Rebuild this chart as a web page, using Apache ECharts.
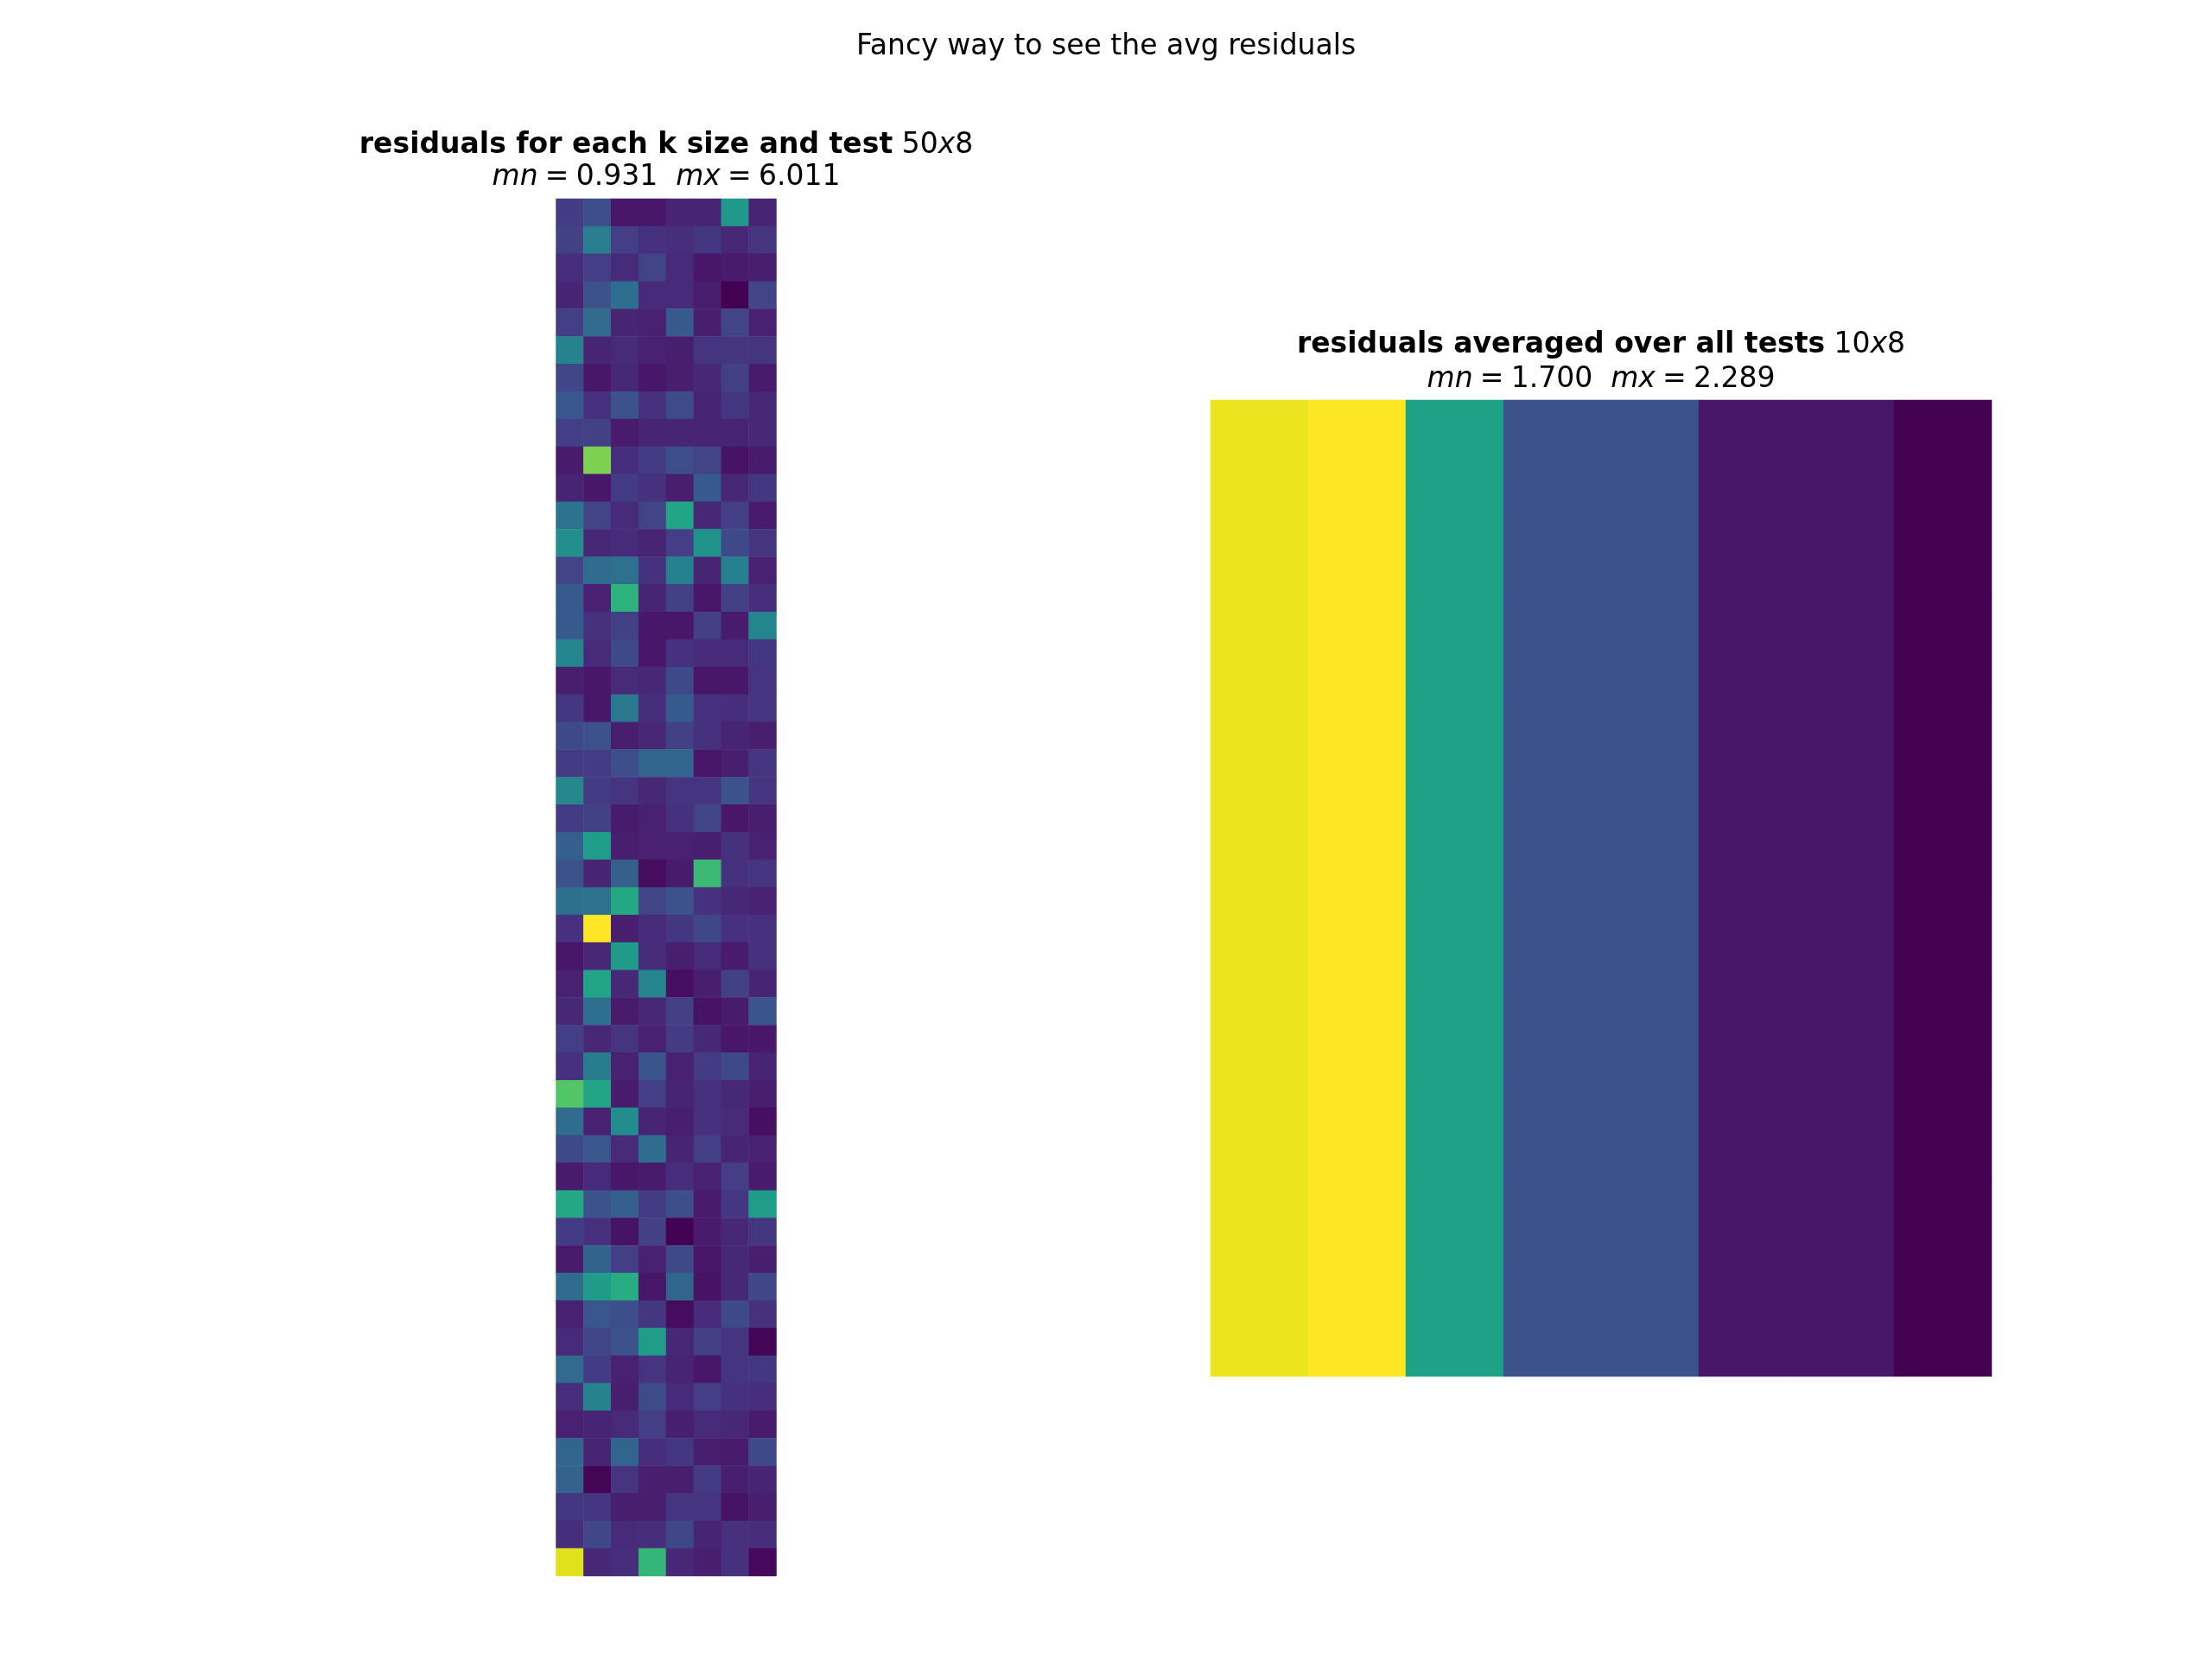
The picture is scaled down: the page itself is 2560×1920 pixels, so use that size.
<!DOCTYPE html>
<html>
<head>
	<meta charset="utf-8"/>
	<title>Fancy way to see the avg residuals</title>
	<style>
		html, body { margin: 0; padding: 0; background: #fff; }
		#chart { width: 2560px; height: 1920px; }
	</style>
</head>
<body>

	<div id="chart"></div>

	<script src="https://cdn.jsdelivr.net/npm/echarts@6/dist/echarts.min.js"></script>
	<script>

		// k sizes (columns) shared by both panels
		var kCols = ['0', '1', '2', '3', '4', '5', '6', '7'];

		// residuals for each test (rows) and k size (columns), 50x8
		var residuals = [
			[1.80, 2.15, 1.24, 1.24, 1.44, 1.44, 3.62, 1.44],
			[1.90, 3.06, 1.85, 1.64, 1.59, 1.74, 1.49, 1.69],
			[1.59, 1.85, 1.54, 1.95, 1.54, 1.24, 1.29, 1.34],
			[1.44, 2.20, 2.76, 1.54, 1.54, 1.34, 0.931, 1.95],
			[1.85, 2.66, 1.44, 1.39, 2.35, 1.34, 1.95, 1.39],
			[3.17, 1.44, 1.54, 1.39, 1.34, 1.69, 1.69, 1.69],
			[2.00, 1.24, 1.49, 1.24, 1.34, 1.49, 1.90, 1.29],
			[2.30, 1.64, 2.20, 1.64, 2.10, 1.44, 1.74, 1.49],
			[1.85, 1.90, 1.29, 1.44, 1.44, 1.44, 1.44, 1.49],
			[1.29, 4.99, 1.59, 1.80, 2.15, 1.95, 1.18, 1.29],
			[1.44, 1.24, 1.80, 1.64, 1.34, 2.35, 1.49, 1.74],
			[2.86, 1.95, 1.54, 1.95, 3.88, 1.49, 1.85, 1.29],
			[3.42, 1.49, 1.54, 1.44, 1.85, 3.47, 2.05, 1.69],
			[1.95, 2.71, 2.81, 1.64, 3.11, 1.44, 3.11, 1.39],
			[2.35, 1.39, 4.18, 1.44, 1.90, 1.24, 1.90, 1.59],
			[2.35, 1.64, 1.90, 1.24, 1.24, 1.90, 1.29, 3.22],
			[3.22, 1.54, 2.05, 1.24, 1.64, 1.54, 1.54, 1.74],
			[1.34, 1.24, 1.54, 1.49, 2.05, 1.24, 1.24, 1.69],
			[1.74, 1.24, 2.96, 1.59, 2.35, 1.64, 1.59, 1.69],
			[2.05, 2.20, 1.34, 1.49, 1.90, 1.64, 1.44, 1.34],
			[1.80, 1.80, 2.15, 2.56, 2.56, 1.24, 1.34, 1.69],
			[3.27, 1.80, 1.69, 1.49, 1.69, 1.69, 2.20, 1.69],
			[1.80, 1.90, 1.29, 1.39, 1.64, 1.95, 1.24, 1.34],
			[2.45, 3.72, 1.34, 1.39, 1.39, 1.34, 1.64, 1.39],
			[2.20, 1.44, 2.45, 1.08, 1.29, 4.38, 1.64, 1.69],
			[2.76, 2.81, 3.98, 1.95, 2.20, 1.64, 1.49, 1.39],
			[1.64, 6.011, 1.34, 1.54, 1.74, 2.00, 1.64, 1.64],
			[1.24, 1.49, 3.67, 1.54, 1.34, 1.54, 1.29, 1.64],
			[1.39, 3.88, 1.49, 3.22, 1.13, 1.34, 1.90, 1.44],
			[1.49, 2.76, 1.29, 1.49, 1.90, 1.18, 1.29, 2.25],
			[1.85, 1.49, 1.69, 1.39, 1.80, 1.49, 1.24, 1.24],
			[1.64, 3.01, 1.39, 2.25, 1.39, 1.80, 2.05, 1.44],
			[4.64, 3.88, 1.29, 1.85, 1.44, 1.64, 1.49, 1.34],
			[2.71, 1.39, 3.37, 1.44, 1.34, 1.64, 1.54, 1.13],
			[2.05, 2.30, 1.54, 2.71, 1.44, 1.85, 1.44, 1.39],
			[1.29, 1.54, 1.24, 1.29, 1.59, 1.39, 1.85, 1.29],
			[3.98, 2.20, 2.45, 1.80, 2.15, 1.29, 1.74, 3.72],
			[1.80, 1.64, 1.18, 1.90, 0.95, 1.29, 1.49, 1.74],
			[1.29, 2.51, 1.85, 1.39, 2.05, 1.24, 1.49, 1.34],
			[2.71, 3.67, 4.08, 1.24, 2.56, 1.18, 1.49, 2.00],
			[1.39, 2.30, 2.15, 1.74, 1.08, 1.54, 2.05, 1.64],
			[1.54, 1.95, 2.20, 3.72, 1.49, 1.90, 1.69, 0.98],
			[2.66, 1.80, 1.39, 1.69, 1.44, 1.24, 1.69, 1.74],
			[1.59, 3.17, 1.34, 2.10, 1.54, 1.85, 1.64, 1.59],
			[1.39, 1.44, 1.54, 1.85, 1.34, 1.54, 1.49, 1.29],
			[2.56, 1.44, 2.56, 1.59, 1.74, 1.34, 1.29, 2.05],
			[2.51, 0.98, 1.69, 1.34, 1.34, 1.80, 1.34, 1.44],
			[1.74, 1.69, 1.34, 1.34, 1.69, 1.69, 1.18, 1.34],
			[1.59, 2.00, 1.54, 1.59, 2.00, 1.44, 1.64, 1.59],
			[5.76, 1.49, 1.59, 4.28, 1.49, 1.34, 1.64, 1.03]
		];

		// residuals averaged over all tests, 10x8 (every row reads the same)
		var avgResiduals = [
			[2.271, 2.289, 2.033, 1.847, 1.847, 1.735, 1.735, 1.700],
			[2.271, 2.289, 2.033, 1.847, 1.847, 1.735, 1.735, 1.700],
			[2.271, 2.289, 2.033, 1.847, 1.847, 1.735, 1.735, 1.700],
			[2.271, 2.289, 2.033, 1.847, 1.847, 1.735, 1.735, 1.700],
			[2.271, 2.289, 2.033, 1.847, 1.847, 1.735, 1.735, 1.700],
			[2.271, 2.289, 2.033, 1.847, 1.847, 1.735, 1.735, 1.700],
			[2.271, 2.289, 2.033, 1.847, 1.847, 1.735, 1.735, 1.700],
			[2.271, 2.289, 2.033, 1.847, 1.847, 1.735, 1.735, 1.700],
			[2.271, 2.289, 2.033, 1.847, 1.847, 1.735, 1.735, 1.700],
			[2.271, 2.289, 2.033, 1.847, 1.847, 1.735, 1.735, 1.700]
		];

		var viridis = [
			'#440154', '#48186a', '#472d7b', '#424086', '#3b528b', '#33638d',
			'#2c728e', '#26828e', '#21918c', '#1fa088', '#28ae80', '#3fbc73',
			'#5ec962', '#84d44b', '#addc30', '#d8e219', '#fde725'
		];

		var FONT = 'DejaVu Sans';
		var EQ = '\u2005=\u2005'; // math-style spacing round "="

		function toCells (matrix) {
			var cells = [], mn = Infinity, mx = -Infinity;
			for (var r = 0; r < matrix.length; r++) {
				for (var c = 0; c < matrix[r].length; c++) {
					var v = matrix[r][c];
					cells.push([c, r, v]);
					if (v < mn) mn = v;
					if (v > mx) mx = v;
				}
			}
			return { cells: cells, min: mn, max: mx };
		}

		function rowNames (n) {
			var a = [];
			for (var i = 0; i < n; i++) a.push(String(i));
			return a;
		}

		var richStyle = {
			b: { fontFamily: FONT, fontSize: 33, fontWeight: 'bold', color: '#000', lineHeight: 40 },
			r: { fontFamily: FONT, fontSize: 33, color: '#000', lineHeight: 40 },
			i: { fontFamily: FONT, fontSize: 33, fontStyle: 'italic', color: '#000', lineHeight: 40 }
		};

		function titleLine (text, x, y) {
			return {
				text: text,
				left: x,
				top: y,
				padding: 0,
				textAlign: 'center',
				textStyle: {
					fontFamily: FONT, fontSize: 33, fontWeight: 'normal',
					color: '#000', lineHeight: 40, rich: richStyle
				}
			};
		}

		function sizeTag (rows, cols) {
			return '{r|' + rows + '}{i|x}{r|' + cols + '}';
		}

		function rangeTag (d) {
			return '{i|mn}{r|' + EQ + d.min.toFixed(3) + '  }{i|mx}{r|' + EQ + d.max.toFixed(3) + '}';
		}

		var left = toCells(residuals);
		var right = toCells(avgResiduals);

		var option = {
			backgroundColor: '#fff',
			animation: false,
			title: [
				titleLine('Fancy way to see the avg residuals', 1280, 34),
				titleLine('{b|residuals for each k size and test} ' + sizeTag(residuals.length, kCols.length), 771, 148),
				titleLine(rangeTag(left), 771, 185),
				titleLine('{b|residuals averaged over all tests} ' + sizeTag(avgResiduals.length, kCols.length), 1853, 379),
				titleLine(rangeTag(right), 1853, 419)
			],
			// whole-pixel cells on the right so equal neighbours show no seam
			grid: [
				{ left: 643.5, top: 230, width: 255, height: 1594 },
				{ left: 1401, top: 463, width: 904, height: 1130 }
			],
			xAxis: [
				{ type: 'category', gridIndex: 0, data: kCols, show: false },
				{ type: 'category', gridIndex: 1, data: kCols, show: false }
			],
			yAxis: [
				{ type: 'category', gridIndex: 0, data: rowNames(residuals.length), inverse: true, show: false },
				{ type: 'category', gridIndex: 1, data: rowNames(avgResiduals.length), inverse: true, show: false }
			],
			visualMap: [
				{ type: 'continuous', show: false, seriesIndex: 0, min: left.min, max: left.max, inRange: { color: viridis } },
				{ type: 'continuous', show: false, seriesIndex: 1, min: right.min, max: right.max, inRange: { color: viridis } }
			],
			series: [
				{
					type: 'heatmap', xAxisIndex: 0, yAxisIndex: 0, data: left.cells,
					itemStyle: { borderWidth: 0 }, emphasis: { disabled: true }
				},
				{
					type: 'heatmap', xAxisIndex: 1, yAxisIndex: 1, data: right.cells,
					itemStyle: { borderWidth: 0 }, emphasis: { disabled: true }
				}
			]
		};

		var myChart = echarts.init(document.getElementById('chart'));
		myChart.setOption(option);

	</script>
</body>
</html>
